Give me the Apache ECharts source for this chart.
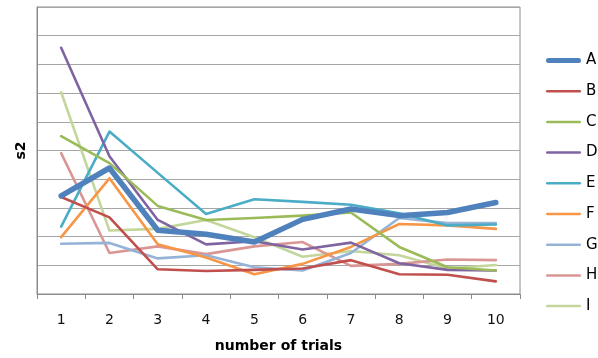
<!DOCTYPE html>
<html>
<head>
<meta charset="utf-8">
<script src="https://cdn.jsdelivr.net/npm/echarts@6/dist/echarts.min.js"></script>
<style>
  html, body { margin: 0; padding: 0; background: #fff; }
  #chart { width: 598px; height: 358px; }
</style>
</head>
<body>
<div id="chart"></div>
<script>
// Trial numbers along the x axis
const trials = ['1', '2', '3', '4', '5', '6', '7', '8', '9', '10'];

// s2 per trial for each group
const seriesA = [3.42, 4.39, 2.22, 2.08, 1.81, 2.60, 2.96, 2.73, 2.84, 3.19];
const seriesB = [3.38, 2.67, 0.86, 0.80, 0.84, 0.89, 1.18, 0.69, 0.67, 0.44];
const seriesC = [5.50, 4.56, 3.07, 2.58, 2.65, 2.73, 2.84, 1.64, 0.93, 0.82];
const seriesD = [8.58, 4.80, 2.58, 1.73, 1.84, 1.55, 1.79, 1.07, 0.84, 0.82];
const seriesE = [2.35, 5.66, 4.22, 2.79, 3.30, 3.21, 3.11, 2.81, 2.39, 2.42];
const seriesF = [1.98, 4.03, 1.73, 1.27, 0.69, 1.05, 1.64, 2.44, 2.39, 2.27];
const seriesG = [1.75, 1.78, 1.24, 1.35, 0.93, 0.82, 1.43, 2.65, 2.47, 2.47];
const seriesH = [4.91, 1.43, 1.66, 1.39, 1.66, 1.81, 0.98, 1.05, 1.20, 1.18];
const seriesI = [7.03, 2.21, 2.27, 2.58, 1.98, 1.30, 1.50, 1.35, 0.89, 1.01];

const names = ['A', 'B', 'C', 'D', 'E', 'F', 'G', 'H', 'I'];
const values = [seriesA, seriesB, seriesC, seriesD, seriesE, seriesF, seriesG, seriesH, seriesI];
const colors = ['#4F81BD', '#C0504D', '#9BBB59', '#8064A2', '#4BACC6',
                '#F79646', '#95B3D7', '#D99694', '#C3D69B'];
const widths = [5.5, 2.6, 2.6, 2.6, 2.6, 2.6, 2.6, 2.6, 2.6];

// Legend swatches: a flat bar as thick as the series line
const thickIcon = 'path://M2.5,0 L32.5,0 A2.5,2.5 0 0 1 32.5,5 L2.5,5 A2.5,2.5 0 0 1 2.5,0 Z';
const thinIcon = 'path://M1.25,0 L33.75,0 A1.25,1.25 0 0 1 33.75,2.5 L1.25,2.5 A1.25,1.25 0 0 1 1.25,0 Z';

const chart = echarts.init(document.getElementById('chart'), null, { renderer: 'canvas' });

chart.setOption({
  animation: false,
  backgroundColor: '#fff',
  color: colors,
  grid: {
    left: 37, right: 78, top: 7, bottom: 60,
    show: true, borderColor: '#8c8c8c', borderWidth: 1
  },
  legend: {
    orient: 'vertical',
    left: 546, top: 53,
    padding: 0,
    itemWidth: 35, itemHeight: 14, itemGap: 15.7,
    symbolKeepAspect: true,
    textStyle: { fontFamily: 'DejaVu Sans', fontSize: 15, color: '#000' },
    data: names.map((n, i) => ({ name: n, icon: i === 0 ? thickIcon : thinIcon }))
  },
  xAxis: {
    type: 'category',
    data: trials,
    boundaryGap: true,
    name: 'number of trials',
    nameLocation: 'middle',
    nameGap: 45,
    nameTextStyle: { fontFamily: 'DejaVu Sans', fontSize: 14, fontWeight: 'bold', color: '#000' },
    axisLine: { lineStyle: { color: '#8c8c8c', width: 1 } },
    axisTick: { show: true, inside: false, length: 5, lineStyle: { color: '#8c8c8c' } },
    axisLabel: { fontFamily: 'DejaVu Sans', fontSize: 14, color: '#111', margin: 19 },
    splitLine: { show: false }
  },
  yAxis: {
    type: 'value',
    min: 0, max: 10, interval: 1,
    name: 's2',
    nameLocation: 'middle',
    nameGap: 9,
    nameRotate: 90,
    nameTextStyle: { fontFamily: 'DejaVu Sans', fontSize: 14, fontWeight: 'bold', color: '#000' },
    axisLine: { show: true, lineStyle: { color: '#8c8c8c', width: 1 } },
    axisTick: { show: false },
    axisLabel: { show: false },
    splitLine: { show: true, lineStyle: { color: '#a6a6a6', width: 1 } }
  },
  series: names.map((n, i) => ({
    name: n,
    type: 'line',
    data: values[i],
    symbol: 'none',
    z: 10 - i,
    lineStyle: { color: colors[i], width: widths[i], cap: 'round', join: 'round' },
    itemStyle: { color: colors[i] }
  }))
});
</script>
</body>
</html>
